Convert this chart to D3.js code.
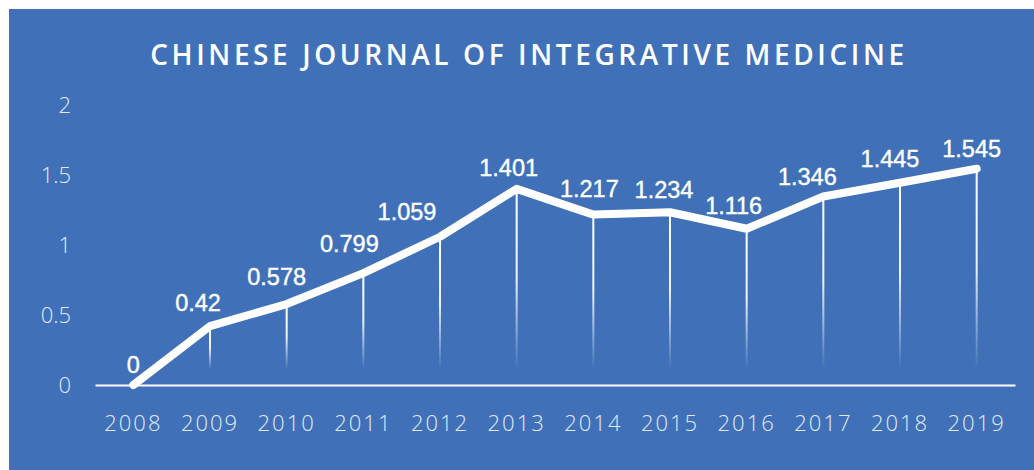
<!DOCTYPE html>
<html>
<head>
<meta charset="utf-8">
<script src="https://cdn.jsdelivr.net/npm/d3@7"></script>
<style>
  body { margin: 0; background: #fff; }
  svg { display: block; }
</style>
</head>
<body>
<div id="chart-area"></div>
<script>
const W = 1034, H = 470
const MARGIN = { LEFT: 95, RIGHT: 19, TOP: 105, BOTTOM: 85 }

const TITLE = "CHINESE JOURNAL OF INTEGRATIVE MEDICINE"
const years = ["2008", "2009", "2010", "2011", "2012", "2013", "2014", "2015", "2016", "2017", "2018", "2019"]
const values = [0, 0.42, 0.578, 0.799, 1.059, 1.401, 1.217, 1.234, 1.116, 1.346, 1.445, 1.545]
const yTicks = [0, 0.5, 1, 1.5, 2]

// hand placed label nudges, like the original chart
const labelDx = [0, -12, -10, -14, -33, -8, -4, -6, -13, -16, -10, -5]
const labelDy = [-12, -15, -19, -21, -17, -13, -18, -14, -15, -12, -16, -12]

const data = years.map((y, i) => ({ year: y, value: values[i], dx: labelDx[i], dy: labelDy[i] }))

const x = d3.scaleBand()
  .domain(years)
  .range([MARGIN.LEFT, W - MARGIN.RIGHT])

const y = d3.scaleLinear()
  .domain([0, 2])
  .range([H - MARGIN.BOTTOM, H - MARGIN.BOTTOM - 280])

const cx = d => x(d.year) + x.bandwidth() / 2

const svg = d3.select("#chart-area").append("svg")
  .attr("width", W)
  .attr("height", H)

// background panel
svg.append("rect")
  .attr("x", 9).attr("y", 9)
  .attr("width", W - 9).attr("height", H - 9)
  .attr("fill", "#4071b8")

const defs = svg.append("defs")
const grad = defs.append("linearGradient")
  .attr("id", "fade")
  .attr("x1", 0).attr("y1", 0).attr("x2", 0).attr("y2", 1)
grad.append("stop").attr("offset", "0%").attr("stop-color", "#fff").attr("stop-opacity", 1)
grad.append("stop").attr("offset", "50%").attr("stop-color", "#fff").attr("stop-opacity", 0.9)
grad.append("stop").attr("offset", "100%").attr("stop-color", "#fff").attr("stop-opacity", 0)

// title
svg.append("text")
  .attr("x", 529)
  .attr("y", 65)
  .attr("text-anchor", "middle")
  .attr("fill", "#fff")
  .style("font-family", "'Open Sans', sans-serif")
  .style("font-weight", 600)
  .style("font-size", "28px")
  .style("letter-spacing", "3.6px")
  .text(TITLE)

// y axis labels
svg.append("g")
  .attr("transform", `translate(${71},0)`)
  .call(d3.axisLeft(y).tickValues(yTicks).tickSize(0).tickPadding(0).tickFormat(d3.format("")))
  .call(g => g.select(".domain").remove())
  .call(g => g.selectAll("text")
    .attr("fill", "#e3eaf5")
    .style("font-family", "'Open Sans', sans-serif")
    .style("font-weight", 300)
    .style("font-size", "22px"))

// x axis
svg.append("g")
  .attr("transform", `translate(0,${y(0)})`)
  .call(d3.axisBottom(x).tickSize(0).tickPadding(30))
  .call(g => g.select(".domain").attr("stroke", "#fff").attr("stroke-width", 2))
  .call(g => g.selectAll("text")
    .attr("fill", "#e3eaf5")
    .style("font-family", "'Open Sans', sans-serif")
    .style("font-weight", 300)
    .style("font-size", "22px")
    .style("letter-spacing", "2px"))

// drop lines
svg.append("g")
  .selectAll("rect")
  .data(data.filter(d => d.value > 0))
  .join("rect")
    .attr("x", d => cx(d) - 1)
    .attr("width", 2)
    .attr("y", d => y(d.value))
    .attr("height", d => y(0) - 16 - y(d.value))
    .attr("fill", "url(#fade)")

// main line
svg.append("path")
  .attr("fill", "none")
  .attr("stroke", "#fff")
  .attr("stroke-width", 8)
  .attr("stroke-linecap", "round")
  .attr("stroke-linejoin", "round")
  .attr("d", d3.line().x(cx).y(d => y(d.value))(data))

// data labels
svg.append("g")
  .selectAll("text")
  .data(data)
  .join("text")
    .attr("x", d => cx(d) + d.dx)
    .attr("y", d => y(d.value) + d.dy)
    .attr("text-anchor", "middle")
    .attr("fill", "#fff")
    .style("font-family", "'Liberation Sans', Arial, sans-serif")
    .style("font-size", "23.5px")
    .style("stroke", "#fff")
    .style("stroke-width", 0.4)
    .text(d => d.value)
</script>
</body>
</html>
